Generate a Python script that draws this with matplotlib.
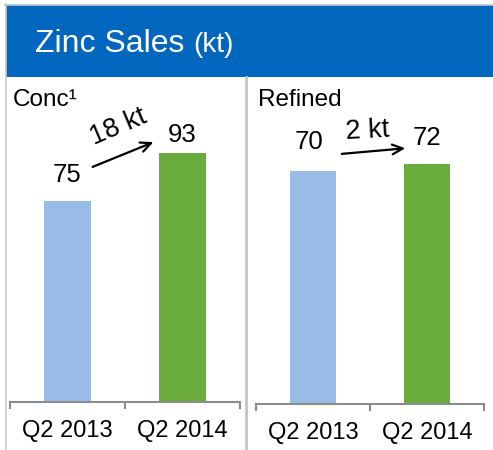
import matplotlib
matplotlib.use("Agg")
import matplotlib.pyplot as plt
from matplotlib.patches import Rectangle
from matplotlib.lines import Line2D

plt.rcParams['font.family'] = ['Liberation Sans', 'DejaVu Sans']

# ---- data ----
categories = ["Q2 2013", "Q2 2014"]
conc_values = [75, 93]
refined_values = [70, 72]
conc_change = "18 kt"
refined_change = "2 kt"
panel_titles = ["Conc\u00b9", "Refined"]
title_main = "Zinc Sales"
title_unit = "(kt)"

bar_colors = ["#99BCE6", "#6AAC3C"]
title_blue = "#0066BE"
W, H = 493, 450
fig = plt.figure(figsize=(W / 100, H / 100), dpi=100)


def fx(px):
    return px / W


def fy(py):
    return 1 - py / H


# title bar and frame
fig.patches.append(Rectangle((fx(6), fy(77)), fx(487), 72 / H, transform=fig.transFigure,
                             facecolor=title_blue, edgecolor="none", zorder=0))
fig.lines.append(Line2D([fx(5), 1], [fy(4.5), fy(4.5)], transform=fig.transFigure,
                        color="#B8C4D0", lw=1.2))
fig.lines.append(Line2D([fx(5.5), fx(5.5)], [fy(4), 0], transform=fig.transFigure,
                        color="#C8C8C8", lw=1.2))
fig.lines.append(Line2D([fx(245.5), fx(245.5)], [fy(77), 0], transform=fig.transFigure,
                        color="#C4C4C4", lw=2))

fig.text(fx(35), fy(52), title_main, color="white", fontsize=23, va="baseline", ha="left")
fig.text(fx(193), fy(52), title_unit, color="white", fontsize=20, va="baseline", ha="left")


def panel(rect, values, ymax, label_offsets, arrow_start, arrow_end, change, change_pos, change_rot):
    ax = fig.add_axes(rect)
    x = range(len(categories))
    ax.bar(x, values, width=0.41, color=bar_colors, zorder=2)
    ax.set_xlim(-0.5, len(categories) - 0.5)
    ax.set_ylim(0, ymax)
    for s in ["top", "right", "left"]:
        ax.spines[s].set_visible(False)
    ax.spines["bottom"].set_color("#8C8C8C")
    ax.spines["bottom"].set_linewidth(1.5)
    ax.set_yticks([])
    ax.set_xticks(list(x))
    ax.set_xticklabels(categories, fontsize=17)
    ax.tick_params(axis="x", which="major", length=0, pad=13)
    ax.set_xticks([-0.5, 0.5, 1.5], minor=True)
    ax.tick_params(axis="x", which="minor", length=5, width=1.5, color="#8C8C8C", direction="out")
    for i, v in enumerate(values):
        ax.annotate(str(v), (i, v), xytext=(label_offsets[i][0], label_offsets[i][1]),
                    textcoords="offset points", ha="center", va="center", fontsize=18.5)
    ax.annotate("", xy=arrow_end, xytext=arrow_start, xycoords="axes fraction",
                textcoords="axes fraction",
                arrowprops=dict(arrowstyle="->,head_length=0.75,head_width=0.35", lw=1.6, color="black"))
    ax.text(change_pos[0], change_pos[1], change, transform=ax.transAxes, ha="center", va="center",
            fontsize=19.5, rotation=change_rot)
    return ax


# left panel: x 10-240, baseline 402, top 100
panel([fx(10), fy(402), 230 / W, 302 / H], conc_values, 302 / 2.68,
      [(0, 19), (0, 13)], (0.348, 0.775), (0.635, 0.864), conc_change, (0.47, 0.91), 23)
# right panel: x 256-484, baseline 404, top 100
panel([fx(256), fy(404), 228 / W, 304 / H], refined_values, 304 / 3.33,
      [(-3, 21), (0, 19)], (0.364, 0.822), (0.667, 0.842), refined_change, (0.487, 0.90), 3)

fig.text(fx(13), fy(106), panel_titles[0], fontsize=17.5, va="baseline", ha="left")
fig.text(fx(258), fy(106), panel_titles[1], fontsize=17.5, va="baseline", ha="left")

fig.savefig("out.png", dpi=100, facecolor="white")
